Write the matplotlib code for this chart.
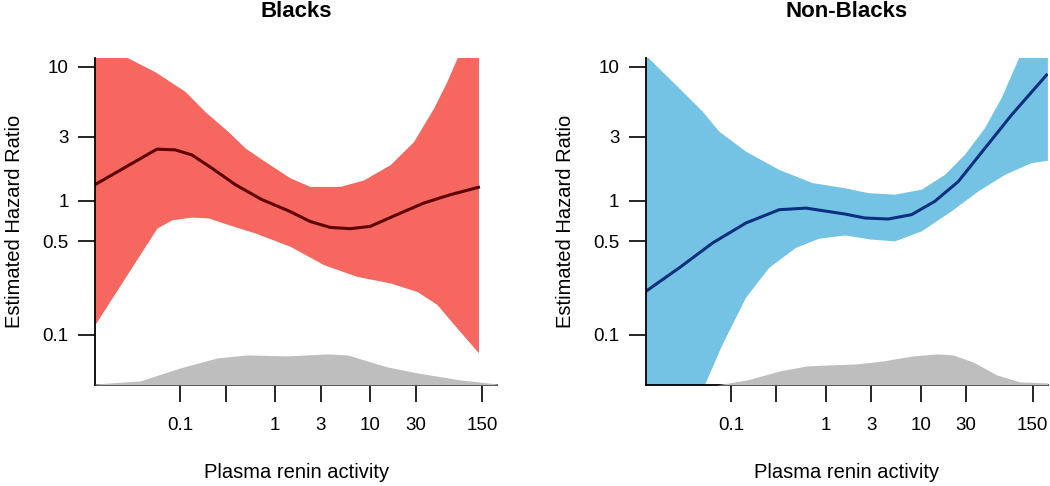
import numpy as np
import matplotlib.pyplot as plt
from matplotlib.ticker import FixedLocator, NullLocator

plt.rcParams['font.family'] = ['Liberation Sans', 'DejaVu Sans']

# ---- Blacks ----
b_line_x = [0.0127, 0.0569, 0.0886, 0.133, 0.216, 0.38, 0.724, 1.44, 2.33, 3.79, 6.16,
            10, 19.1, 36.5, 69.8, 138]
b_line_y = [1.32, 2.43, 2.4, 2.2, 1.75, 1.32, 1.02, 0.83, 0.70, 0.632, 0.618,
            0.643, 0.787, 0.96, 1.11, 1.26]

b_up_x = [0.0127, 0.0281, 0.0546, 0.113, 0.183, 0.32, 0.483, 0.785, 1.44, 2.33, 4.83,
          8.5, 16.2, 28.6, 46.4, 64, 81.7, 138]
b_up_y = [15.4, 11.7, 9.2, 6.55, 4.63, 3.29, 2.48, 1.96, 1.48, 1.28, 1.28,
          1.43, 1.86, 2.77, 4.92, 7.77, 11.6, 27]

b_lo_x = [0.0127, 0.0569, 0.0817, 0.133, 0.199, 0.323, 0.616, 1.44, 3.23, 7.24,
          16.2, 31, 50.3, 81.7, 138]
b_lo_y = [0.119, 0.625, 0.72, 0.755, 0.743, 0.662, 0.574, 0.456, 0.333, 0.272,
          0.243, 0.21, 0.168, 0.112, 0.073]

b_dens_x = [0.0127, 0.038, 0.1, 0.245, 0.507, 1.34, 3.52, 5.73, 15.1, 31.3, 88.5, 217]
b_dens_y = [1, 4, 17, 27, 30, 29, 31, 30, 18, 12, 5, 1]

# ---- Non-Blacks ----
n_line_x = [0.0127, 0.0286, 0.0641, 0.144, 0.323, 0.616, 1.59, 2.57, 4.53, 7.98,
            14, 24.7, 47.2, 90, 210]
n_line_y = [0.21, 0.315, 0.483, 0.682, 0.857, 0.881, 0.795, 0.743, 0.73, 0.787,
            0.99, 1.39, 2.47, 4.38, 8.71]

n_up_x = [0.0127, 0.0135, 0.0286, 0.0504, 0.0753, 0.144, 0.323, 0.724, 1.59, 2.79,
          5.33, 10.2, 17.9, 29, 47.2, 70.6, 106, 217]
n_up_y = [12.3, 11.7, 6.93, 4.64, 3.29, 2.33, 1.70, 1.355, 1.24, 1.14,
          1.11, 1.21, 1.56, 2.2, 3.49, 5.84, 11.3, 36]

n_lo_x = [0.0127, 0.0546, 0.0817, 0.144, 0.253, 0.483, 0.85, 1.59, 3.03, 5.33,
          10.2, 21, 40, 76.6, 146, 217]
n_lo_y = [0.004, 0.0436, 0.084, 0.188, 0.315, 0.444, 0.52, 0.55, 0.512, 0.497,
          0.59, 0.832, 1.17, 1.56, 1.91, 1.99]

n_dens_x = [0.0127, 0.071, 0.148, 0.328, 0.63, 1.1, 2.12, 3.98, 8.24, 14.7, 21.7,
            35.2, 63, 110, 217]
n_dens_y = [0, 0, 5, 14, 19, 20, 21, 24, 29, 31, 30, 23, 10, 3, 2]

x_ticks = [0.1, 0.3, 1, 3, 10, 30, 150]
x_labels = ['0.1', '', '1', '3', '10', '30', '150']
y_ticks = [0.1, 0.5, 1, 3, 10]
y_labels = ['0.1', '0.5', '1', '3', '10']

panels = [
    ('Blacks', b_line_x, b_line_y, b_up_x, b_up_y, b_lo_x, b_lo_y,
     b_dens_x, b_dens_y, '#F5675F', '#5E0000'),
    ('Non-Blacks', n_line_x, n_line_y, n_up_x, n_up_y, n_lo_x, n_lo_y,
     n_dens_x, n_dens_y, '#74C3E4', '#08307E'),
]

fig = plt.figure(figsize=(10.5, 4.86), dpi=100)
lefts = [0.0905, 0.615]

for left, p in zip(lefts, panels):
    title, lx, ly, ux, uy, dx, dy, kx, ky, fill_col, line_col = p
    ax = fig.add_axes([left, 0.208, 0.383, 0.673])
    ax.set_xscale('log')
    ax.set_yscale('log')
    ax.set_xlim(0.0127, 217)
    ax.set_ylim(0.042, 11.7)

    # band: upper and lower edges on a common x grid built from the read points
    bx = np.array(sorted(set(ux) | set(dx)))
    bu = np.exp(np.interp(np.log(bx), np.log(ux), np.log(uy)))
    bl = np.exp(np.interp(np.log(bx), np.log(dx), np.log(dy)))
    ax.fill_between(bx, bl, bu, color=fill_col, lw=0)
    ax.plot(lx, ly, color=line_col, lw=2.2)

    ax.spines['top'].set_visible(False)
    ax.spines['right'].set_visible(False)
    ax.xaxis.set_major_locator(FixedLocator(x_ticks))
    ax.xaxis.set_minor_locator(NullLocator())
    ax.set_xticklabels(x_labels)
    ax.yaxis.set_major_locator(FixedLocator(y_ticks))
    ax.yaxis.set_minor_locator(NullLocator())
    ax.set_yticklabels(y_labels)
    ax.tick_params(length=12, width=1.2, labelsize=13.5, pad=7)
    ax.tick_params(axis='x', pad=11)
    for s in ('left', 'bottom'):
        ax.spines[s].set_linewidth(1.3)

    ax.set_xlabel('Plasma renin activity', fontsize=14.5, labelpad=21)
    ax.set_ylabel('Estimated Hazard Ratio', fontsize=14.5, labelpad=13)
    ax.set_title(title, fontsize=16, fontweight='bold', pad=29.5)

    # density of observations along the bottom
    ax2 = ax.twinx()
    ax2.fill_between(kx, 0, ky, color='#BEBEBE', lw=0)
    ax2.set_ylim(0, 327)
    ax2.set_yticks([])
    for s in ax2.spines.values():
        s.set_visible(False)
    ax2.set_xlim(0.0127, 217)

fig.savefig('out.png', dpi=100)
